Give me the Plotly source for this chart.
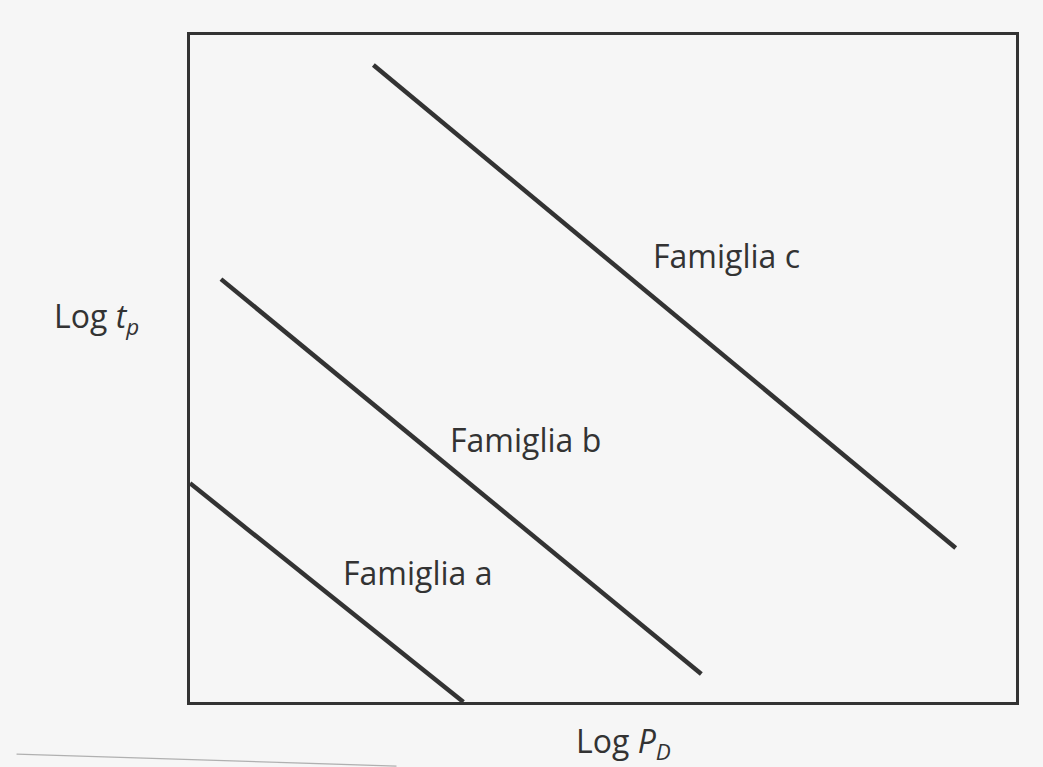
import plotly.graph_objects as go

# Schematic log-log lines for three families (arbitrary log units)
families = ["Famiglia a", "Famiglia b", "Famiglia c"]
log_pd_start = [0.0, 0.375, 2.22]
log_pd_end = [3.31, 6.19, 9.27]
log_tp_start = [3.28, 6.34, 9.55]
log_tp_end = [0.0, 0.42, 2.31]
label_x = [2.75, 4.06, 6.50]
label_y = [1.94, 3.94, 6.70]

ink = "#333333"
font = "Open Sans"
size = 32

fig = go.Figure()
for i, name in enumerate(families):
    fig.add_trace(go.Scatter(
        x=[log_pd_start[i], log_pd_end[i]],
        y=[log_tp_start[i], log_tp_end[i]],
        mode="lines",
        line=dict(color=ink, width=4.5),
        name=name,
        showlegend=False,
        hoverinfo="skip",
    ))
    fig.add_annotation(
        x=label_x[i], y=label_y[i], text=name, showarrow=False,
        font=dict(family=font, size=size, color=ink),
        xanchor="center", yanchor="middle",
    )

# Axis titles
fig.add_annotation(
    xref="paper", yref="paper", x=-0.113, y=0.576,
    text="Log <i>t</i><sub><i>p</i></sub>", showarrow=False,
    font=dict(family=font, size=size, color=ink),
    xanchor="center", yanchor="middle",
)
fig.add_annotation(
    xref="paper", yref="paper", x=0.525, y=-0.062,
    text="Log <i>P</i><sub><i>D</i></sub>", showarrow=False,
    font=dict(family=font, size=size, color=ink),
    xanchor="center", yanchor="middle",
)

# Faint edge of the sheet below the frame
fig.add_shape(
    type="line", xref="paper", yref="paper",
    x0=-0.21, y0=-0.078, x1=0.25, y1=-0.096,
    line=dict(color="#b0b0b0", width=1.2),
)

axis_style = dict(
    range=[0, 10], showgrid=False, zeroline=False, showticklabels=False,
    ticks="", showline=True, linecolor=ink, linewidth=2.5, mirror=True,
)
fig.update_xaxes(**axis_style)
fig.update_yaxes(**axis_style)

fig.update_layout(
    width=1043, height=767,
    margin=dict(l=190, r=27, t=35, b=65),
    paper_bgcolor="#f6f6f6",
    plot_bgcolor="#f6f6f6",
)

fig.write_html("out.html")
